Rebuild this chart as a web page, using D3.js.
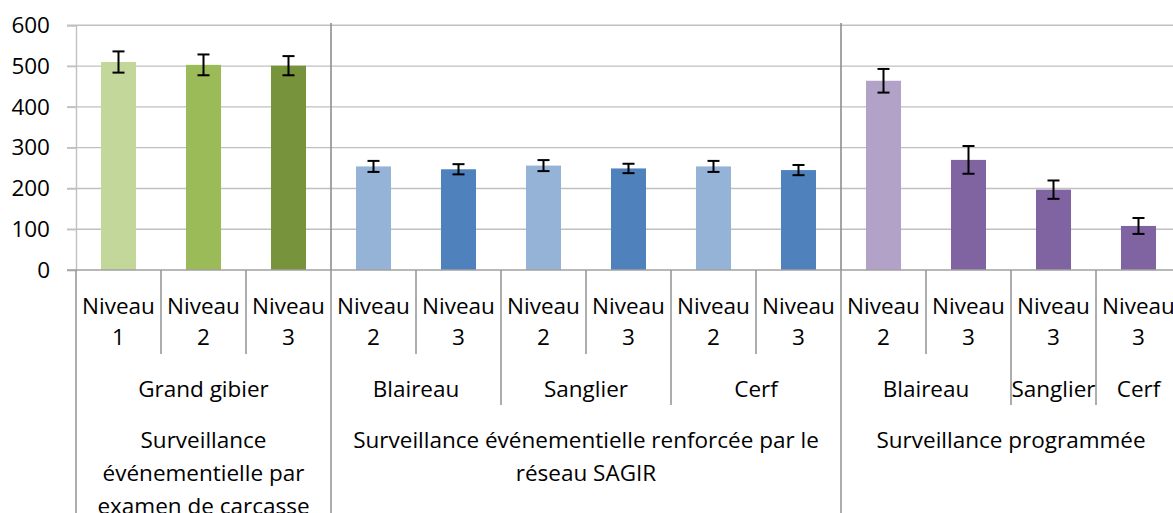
<!DOCTYPE html>
<html>
<head>
<meta charset="utf-8">
<script src="https://cdn.jsdelivr.net/npm/d3@7/dist/d3.min.js"></script>
<style>
  html, body { margin: 0; padding: 0; background: #fff; overflow: hidden; }
  svg { display: block; font-family: "Open Sans", "Noto Sans", sans-serif; }
</style>
</head>
<body>
<svg id="chart" width="1173" height="513"></svg>
<script>
// ---- data ----
const levelLabels = ["Niveau 1","Niveau 2","Niveau 3","Niveau 2","Niveau 3","Niveau 2","Niveau 3","Niveau 2","Niveau 3","Niveau 2","Niveau 3","Niveau 3","Niveau 3"];
const values = [510, 503, 501, 254, 247, 256, 249, 254, 245, 464, 270, 197, 108];
const errors = [26, 25.5, 23.5, 13.5, 12.5, 13.5, 11.5, 13.5, 12.5, 29, 34, 22.5, 19.5];
const speciesNames = ["Grand gibier","Blaireau","Sanglier","Cerf","Blaireau","Sanglier","Cerf"];
const speciesSpans = [3, 2, 2, 2, 2, 1, 1];
const surveillanceNames = [
  ["Surveillance", "événementielle par", "examen de carcasse"],
  ["Surveillance événementielle renforcée par le", "réseau SAGIR"],
  ["Surveillance programmée"]
];
const surveillanceSpans = [3, 6, 4];
const yTicks = [0, 100, 200, 300, 400, 500, 600];
const barColors = ["#C4D79B","#9BBB59","#77933C","#95B3D7","#4F81BD","#95B3D7","#4F81BD","#95B3D7","#4F81BD","#B3A2C7","#8064A2","#8064A2","#8064A2"];

// ---- layout ----
const svg = d3.select("#chart");
const x0 = 76, x1 = 1181;
const yTop = 25.3, yBot = 270;
const fontSize = 22.5;

const x = d3.scaleBand().domain(d3.range(values.length)).range([x0, x1]).padding(0);
const y = d3.scaleLinear().domain([0, 600]).range([yBot, yTop]);
const barW = x.bandwidth() * 0.412;

// gridlines
svg.append("g").selectAll("line").data(yTicks.filter(t => t > 0)).join("line")
  .attr("x1", x0 - 9).attr("x2", x1)
  .attr("y1", d => y(d)).attr("y2", d => y(d))
  .attr("stroke", "#C0C0C0").attr("stroke-width", 1.4);

// y axis
const yAxis = svg.append("g").attr("transform", `translate(${x0},0)`)
  .call(d3.axisLeft(y).tickValues(yTicks).tickSize(9).tickPadding(17));
yAxis.select(".domain").attr("stroke", "#C0C0C0").attr("stroke-width", 1.4);
yAxis.selectAll(".tick line").attr("stroke", "#C0C0C0").attr("stroke-width", 1.4);
yAxis.selectAll(".tick text").attr("font-size", fontSize).attr("fill", "#000")
  .attr("font-family", "'Open Sans', sans-serif");

// bars
svg.append("g").selectAll("rect").data(values).join("rect")
  .attr("x", (d, i) => x(i) + (x.bandwidth() - barW) / 2)
  .attr("width", barW)
  .attr("y", d => y(d))
  .attr("height", d => yBot - y(d))
  .attr("fill", (d, i) => barColors[i]);

// error bars
const eg = svg.append("g").attr("stroke", "#000").attr("stroke-width", 2);
values.forEach((v, i) => {
  const cx = x(i) + x.bandwidth() / 2;
  const hi = y(v + errors[i]), lo = y(v - errors[i]);
  eg.append("line").attr("x1", cx).attr("x2", cx).attr("y1", hi).attr("y2", lo);
  eg.append("line").attr("x1", cx - 6).attr("x2", cx + 6).attr("y1", hi).attr("y2", hi);
  eg.append("line").attr("x1", cx - 6).attr("x2", cx + 6).attr("y1", lo).attr("y2", lo);
});

// x axis line
svg.append("line").attr("x1", x0 - 9).attr("x2", x1).attr("y1", yBot).attr("y2", yBot)
  .attr("stroke", "#A0A0A0").attr("stroke-width", 1.6);

// boundaries
const speciesBounds = new Set([0]);
let acc = 0; speciesSpans.forEach(s => { acc += s; speciesBounds.add(acc); });
const survBounds = new Set([0]);
acc = 0; surveillanceSpans.forEach(s => { acc += s; survBounds.add(acc); });

const divG = svg.append("g").attr("stroke", "#999").attr("stroke-width", 1.6);
for (let i = 0; i <= values.length; i++) {
  const bx = i < values.length ? x(i) : x1;
  let yEnd = 354;
  if (speciesBounds.has(i)) yEnd = 405;
  if (survBounds.has(i)) yEnd = 513;
  divG.append("line").attr("x1", bx).attr("x2", bx).attr("y1", yBot).attr("y2", yEnd);
  if (survBounds.has(i) && i > 0 && i < values.length) {
    divG.append("line").attr("x1", bx).attr("x2", bx).attr("y1", 23).attr("y2", yBot)
      .attr("stroke", "#8E8E8E");
  }
}

// level labels
const tg = svg.append("g").attr("font-size", fontSize).attr("fill", "#000").attr("text-anchor", "middle");
levelLabels.forEach((lab, i) => {
  const parts = lab.split(" ");
  const cx = x(i) + x.bandwidth() / 2;
  tg.append("text").attr("x", cx).attr("y", 314).text(parts[0]);
  tg.append("text").attr("x", cx).attr("y", 345).text(parts[1]);
});

// species labels
acc = 0;
speciesNames.forEach((name, k) => {
  const start = x(acc);
  const end = acc + speciesSpans[k] < values.length ? x(acc + speciesSpans[k]) : x1;
  tg.append("text").attr("x", (start + end) / 2).attr("y", 396.5).text(name);
  acc += speciesSpans[k];
});

// surveillance labels
acc = 0;
surveillanceNames.forEach((lines, k) => {
  const start = x(acc);
  const end = acc + surveillanceSpans[k] < values.length ? x(acc + surveillanceSpans[k]) : x1;
  lines.forEach((ln, j) => {
    tg.append("text").attr("x", (start + end) / 2).attr("y", 448 + j * 32.8).text(ln);
  });
  acc += surveillanceSpans[k];
});
</script>
</body>
</html>
